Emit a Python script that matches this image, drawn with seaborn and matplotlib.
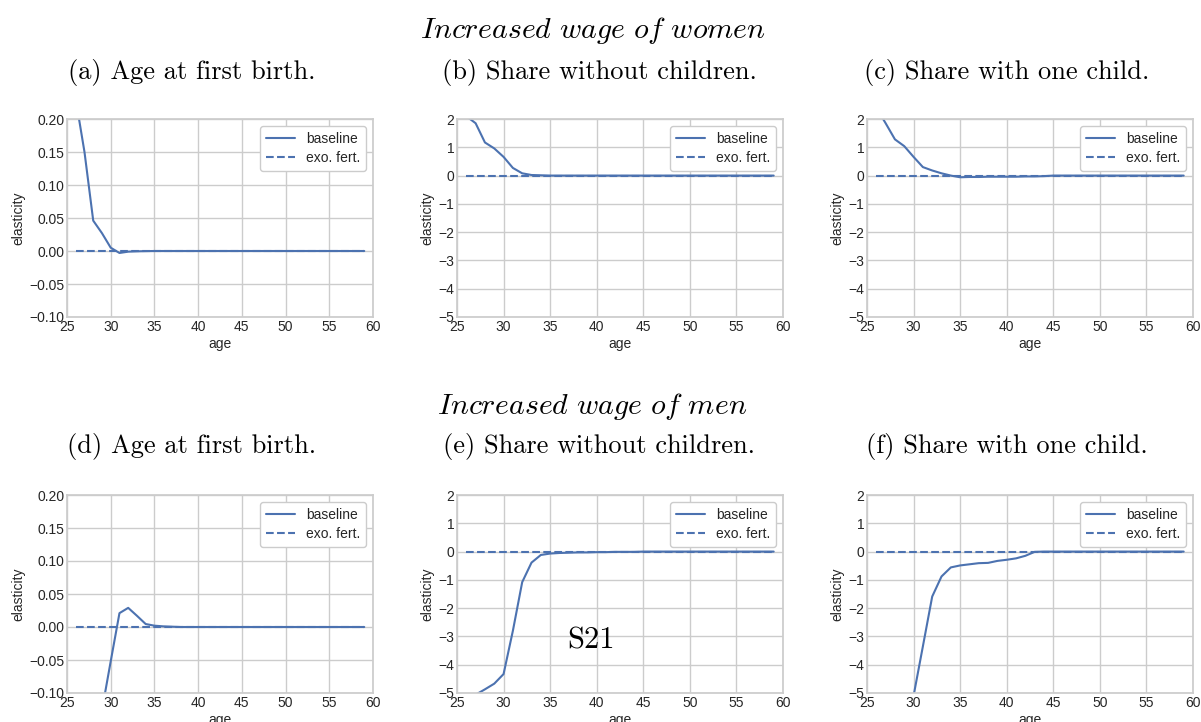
import matplotlib
matplotlib.use('Agg')
import matplotlib.pyplot as plt
import seaborn as sns

ages = [26, 27, 28, 29, 30, 31, 32, 33, 34, 35,
        36, 37, 38, 39, 40, 41, 42, 43, 44, 45,
        46, 47, 48, 49, 50, 51, 52, 53, 54, 55,
        56, 57, 58, 59]

# exogenous fertility: flat at zero in every panel
exo_fert = [0.0, 0.0, 0.0, 0.0, 0.0, 0.0, 0.0, 0.0, 0.0, 0.0,
            0.0, 0.0, 0.0, 0.0, 0.0, 0.0, 0.0, 0.0, 0.0, 0.0,
            0.0, 0.0, 0.0, 0.0, 0.0, 0.0, 0.0, 0.0, 0.0, 0.0,
            0.0, 0.0, 0.0, 0.0]

# women wage
a_base = [0.230, 0.150, 0.046, 0.027, 0.005, -0.003, -0.001, -0.0005, -0.0002, 0.0,
          0.0, 0.0, 0.0, 0.0, 0.0, 0.0, 0.0, 0.0, 0.0, 0.0,
          0.0, 0.0, 0.0, 0.0, 0.0, 0.0, 0.0, 0.0, 0.0, 0.0,
          0.0, 0.0, 0.0, 0.0]
b_base = [2.10, 1.85, 1.17, 0.96, 0.66, 0.27, 0.08, 0.02, 0.01, 0.0,
          0.0, 0.0, 0.0, 0.0, 0.0, 0.0, 0.0, 0.0, 0.0, 0.0,
          0.0, 0.0, 0.0, 0.0, 0.0, 0.0, 0.0, 0.0, 0.0, 0.0,
          0.0, 0.0, 0.0, 0.0]
c_base = [2.40, 1.85, 1.28, 1.04, 0.66, 0.30, 0.18, 0.08, 0.00, -0.06,
          -0.05, -0.05, -0.04, -0.04, -0.04, -0.04, -0.03, -0.03, -0.02, 0.0,
          0.0, 0.0, 0.0, 0.0, 0.0, 0.0, 0.0, 0.0, 0.0, 0.0,
          0.0, 0.0, 0.0, 0.0]

# men wage
d_base = [-0.50, -0.35, -0.22, -0.126, -0.052, 0.021, 0.029, 0.017, 0.0045, 0.002,
          0.001, 0.0005, 0.0, 0.0, 0.0, 0.0, 0.0, 0.0, 0.0, 0.0,
          0.0, 0.0, 0.0, 0.0, 0.0, 0.0, 0.0, 0.0, 0.0, 0.0,
          0.0, 0.0, 0.0, 0.0]
e_base = [-5.25, -5.06, -4.87, -4.67, -4.33, -2.80, -1.08, -0.39, -0.12, -0.07,
          -0.05, -0.04, -0.03, -0.03, -0.02, -0.02, -0.01, -0.01, -0.01, 0.0,
          0.0, 0.0, 0.0, 0.0, 0.0, 0.0, 0.0, 0.0, 0.0, 0.0,
          0.0, 0.0, 0.0, 0.0]
f_base = [-6.5, -6.2, -5.9, -5.6, -5.10, -3.35, -1.59, -0.88, -0.56, -0.49,
          -0.45, -0.41, -0.40, -0.33, -0.29, -0.24, -0.15, -0.01, 0.0, 0.0,
          0.0, 0.0, 0.0, 0.0, 0.0, 0.0, 0.0, 0.0, 0.0, 0.0,
          0.0, 0.0, 0.0, 0.0]

captions = ['(a) Age at first birth.', '(b) Share without children.', '(c) Share with one child.',
            '(d) Age at first birth.', '(e) Share without children.', '(f) Share with one child.']
small_ticks = [-0.10, -0.05, 0.00, 0.05, 0.10, 0.15, 0.20]
big_ticks = [-5, -4, -3, -2, -1, 0, 1, 2]
x_ticks = [25, 30, 35, 40, 45, 50, 55, 60]

sns.set_theme(style='whitegrid', rc={'axes.edgecolor': '.8', 'grid.color': '.8',
                                     'text.color': '.15', 'xtick.color': '.15', 'ytick.color': '.15',
                                     'axes.labelcolor': '.15'})
plt.rcParams['font.family'] = ['Liberation Sans', 'DejaVu Sans']
plt.rcParams['mathtext.fontset'] = 'cm'

blue = '#4C72B0'
W, H = 1201, 722
fig = plt.figure(figsize=(12.01, 7.22), dpi=100)

# axes boxes in pixels: (left, right, top, bottom)
col_px = [(67, 373), (457, 783), (867, 1193)]
row_px = [(119, 317), (495, 693)]
panels = [a_base, b_base, c_base, d_base, e_base, f_base]

for i, base in enumerate(panels):
    r, c = divmod(i, 3)
    x0, x1 = col_px[c]
    y0, y1 = row_px[r]
    ax = fig.add_axes([x0 / W, 1 - y1 / H, (x1 - x0) / W, (y1 - y0) / H])
    sns.lineplot(x=ages, y=base, ax=ax, color=blue, linewidth=1.5, label='baseline')
    sns.lineplot(x=ages, y=exo_fert, ax=ax, color=blue, linewidth=1.5, linestyle='--', label='exo. fert.')
    ax.set_xlim(25, 60)
    ax.set_xticks(x_ticks)
    if c == 0:
        ax.set_ylim(-0.10, 0.20)
        ax.set_yticks(small_ticks)
        ax.set_yticklabels(['%.2f' % t if t >= 0 else '\u2212%.2f' % -t for t in small_ticks])
    else:
        ax.set_ylim(-5, 2)
        ax.set_yticks(big_ticks)
    ax.tick_params(labelsize=10, pad=2, length=0)
    ax.set_xlabel('age', fontsize=10, labelpad=2)
    ax.set_ylabel('elasticity', fontsize=10, labelpad=3)
    for s in ax.spines.values():
        s.set_color('.8')
        s.set_linewidth(1.25)
    ax.legend(loc='upper right', frameon=True, fontsize=10, edgecolor='.8', facecolor='white',
              framealpha=1.0, handlelength=2.1, borderpad=0.4, labelspacing=0.4)

# captions (LaTeX-like serif)
cap_x = [192, 599, 1007]
for i, cap in enumerate(captions):
    r, c = divmod(i, 3)
    y = [72, 447][r]
    fig.text(cap_x[c] / W, 1 - y / H, cap, fontfamily='cmr10', fontsize=19,
             ha='center', va='center', color='black')

fig.text(593 / W, 1 - 30 / H, r'$\mathit{Increased\ wage\ of\ women}$', fontsize=21.5,
         ha='center', va='center', color='black')
fig.text(592 / W, 1 - 407 / H, r'$\mathit{Increased\ wage\ of\ men}$', fontsize=21.5,
         ha='center', va='center', color='black')

fig.text(591 / W, 1 - 641 / H, 'S21', fontfamily='cmr10', fontsize=22,
         ha='center', va='center', color='black')

fig.savefig('out.png', dpi=100)
